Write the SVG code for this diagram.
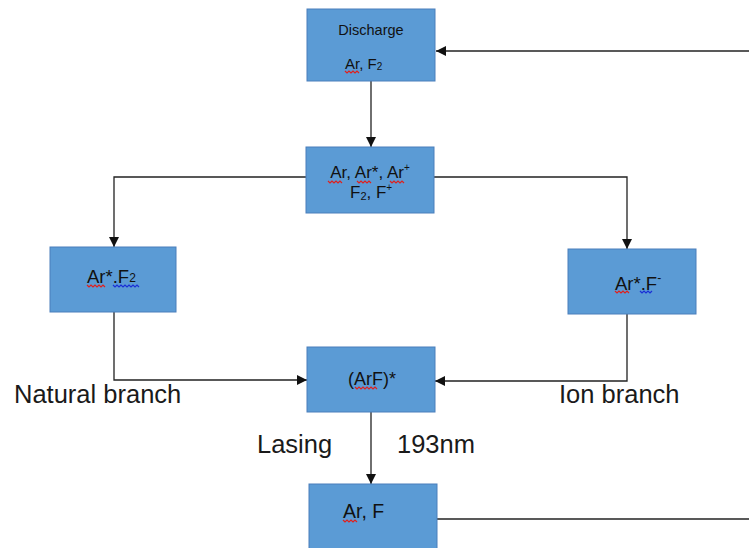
<svg xmlns="http://www.w3.org/2000/svg" width="749" height="548" viewBox="0 0 749 548">
<defs>
<style>
.box{fill:#5b9bd5;stroke:#4a7ebb;stroke-width:1}
.t{font-family:"Liberation Sans",Arial,sans-serif;fill:#111}
.lbl{font-family:"Liberation Sans",Arial,sans-serif;fill:#1a1a1a;font-size:25.5px}
.c{fill:none;stroke:#222;stroke-width:1.3}
.sq{fill:none;stroke-width:1.2}
</style>
<marker id="ah" viewBox="0 0 10 10" refX="10" refY="5" markerWidth="10" markerHeight="10" markerUnits="userSpaceOnUse" orient="auto">
<path d="M0,0 L10,5 L0,10 Z" fill="#111"/>
</marker>
</defs>
<rect width="749" height="548" fill="#fff"/>
<g id="connectors">
<path class="c" d="M749,51 L436,51" marker-end="url(#ah)"/>
<path class="c" d="M371,81 L371,147" marker-end="url(#ah)"/>
<path class="c" d="M306,177 L114,177 L114,247" marker-end="url(#ah)"/>
<path class="c" d="M434,177 L627,177 L627,249" marker-end="url(#ah)"/>
<path class="c" d="M114,312 L114,380 L307,380" marker-end="url(#ah)"/>
<path class="c" d="M627,314 L627,381 L435,381" marker-end="url(#ah)"/>
<path class="c" d="M371,412 L371,484" marker-end="url(#ah)"/>
<path class="c" d="M437,519 L749,519"/>
</g>
<g id="discharge">
<rect class="box" x="307" y="9" width="128" height="72"/>
<text class="t" x="371" y="35" font-size="14.5" text-anchor="middle">Discharge</text>
<text class="t" x="345" y="69" font-size="15">Ar, F<tspan font-size="10" dy="1">2</tspan></text>
</g>
<g id="mixture">
<rect class="box" x="306" y="147" width="128" height="66"/>
<text class="t" x="370" y="178" font-size="17" text-anchor="middle">Ar, Ar*, Ar<tspan font-size="10" dy="-7">+</tspan></text>
<text class="t" x="350" y="198" font-size="17">F<tspan font-size="11" dy="2">2</tspan><tspan dy="-2">, F</tspan><tspan font-size="10" dy="-7">+</tspan></text>
</g>
<g id="natural">
<rect class="box" x="50" y="247" width="126" height="65"/>
<text class="t" x="87" y="283" font-size="18.5">Ar*.F<tspan font-size="12" dy="-1">2</tspan></text>
</g>
<g id="ion">
<rect class="box" x="568" y="249" width="128" height="65"/>
<text class="t" x="615" y="290" font-size="18.5">Ar*.F<tspan font-size="12" dy="-8">-</tspan></text>
</g>
<g id="excimer">
<rect class="box" x="307" y="347" width="128" height="65"/>
<text class="t" x="348" y="385" font-size="18">(ArF)*</text>
</g>
<g id="ground">
<rect class="box" x="309" y="484" width="128" height="68"/>
<text class="t" x="343" y="518" font-size="19.5">Ar, F</text>
</g>
<g id="spellmarks">
<path class="sq" stroke="#e0201c" d="M345,71 l2,2 l2,-2 l2,2 l2,-2 l2,2 l2,-2 l2,2"/>
<path class="sq" stroke="#e0201c" d="M328,181 l2,2 l2,-2 l2,2 l2,-2 l2,2 l2,-2 l2,2"/>
<path class="sq" stroke="#e0201c" d="M357,181 l2,2 l2,-2 l2,2 l2,-2 l2,2 l2,-2 l2,2"/>
<path class="sq" stroke="#e0201c" d="M390,181 l2,2 l2,-2 l2,2 l2,-2 l2,2 l2,-2 l2,2"/>
<path class="sq" stroke="#e0201c" d="M87,285 l2,2 l2,-2 l2,2 l2,-2 l2,2 l2,-2 l2,2 l2,-2 l2,2"/>
<path class="sq" stroke="#1a2fd6" d="M113,285 l2,2 l2,-2 l2,2 l2,-2 l2,2 l2,-2 l2,2 l2,-2 l2,2 l2,-2 l2,2 l2,-2 l2,2"/>
<path class="sq" stroke="#e0201c" d="M615,291 l2,2 l2,-2 l2,2 l2,-2 l2,2 l2,-2 l2,2"/>
<path class="sq" stroke="#1a2fd6" d="M640,291 l2,2 l2,-2 l2,2 l2,-2 l2,2 l2,-2"/>
<path class="sq" stroke="#e0201c" d="M355,387 l2,2 l2,-2 l2,2 l2,-2 l2,2 l2,-2 l2,2 l2,-2 l2,2 l2,-2 l2,2"/>
<path class="sq" stroke="#e0201c" d="M343,520 l2,2 l2,-2 l2,2 l2,-2 l2,2 l2,-2 l2,2"/>
</g>
<g id="labels">
<text class="lbl" x="14" y="403">Natural branch</text>
<text class="lbl" x="559" y="403">Ion branch</text>
<text class="lbl" x="257" y="453">Lasing</text>
<text class="lbl" x="397" y="453">193nm</text>
</g>
</svg>
